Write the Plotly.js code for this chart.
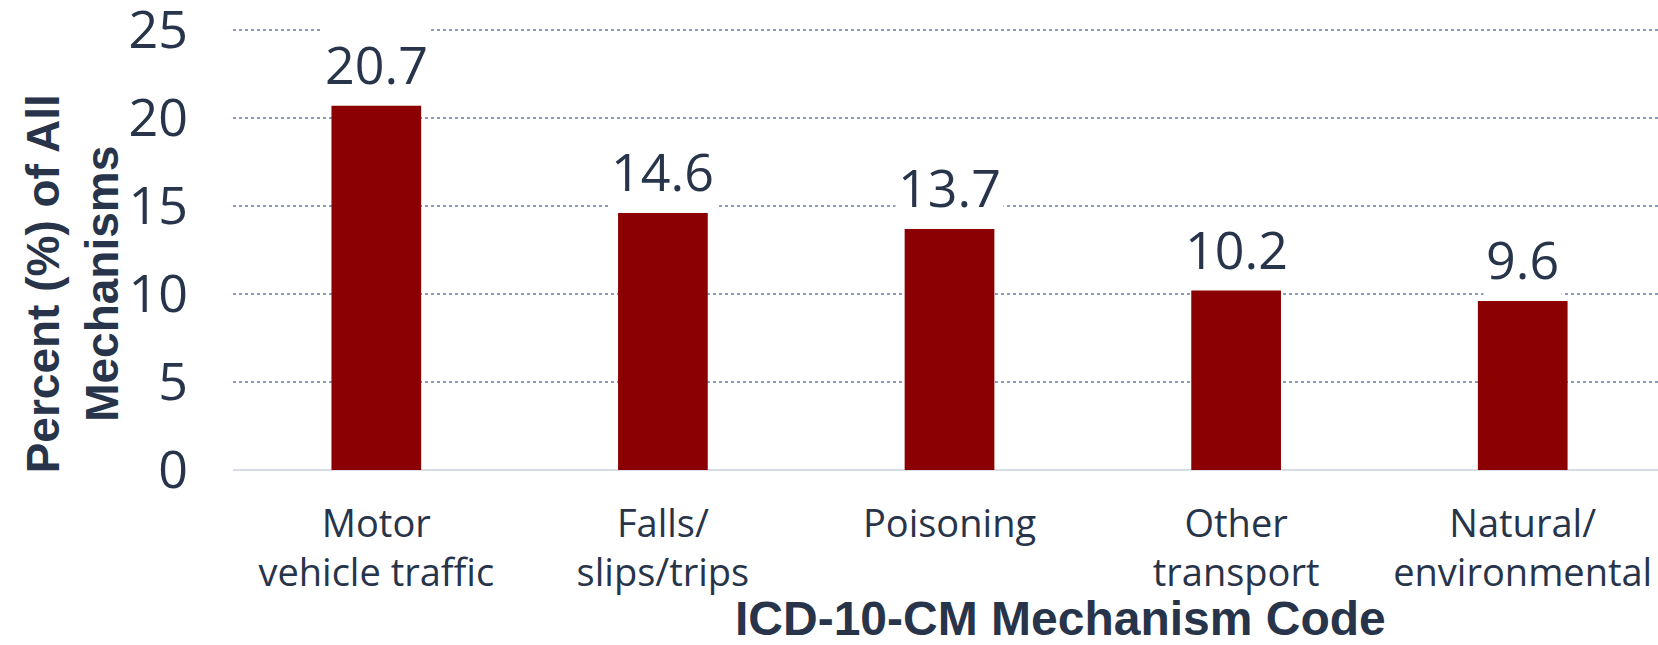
<!DOCTYPE html>
<html>
<head>
<meta charset="utf-8">
<script src="https://cdn.plot.ly/plotly-3.0.1.min.js"></script>
<style>html,body{margin:0;padding:0;background:#fff;}#chart{width:1658px;height:645px;}</style>
</head>
<body>
<div id="chart"></div>
<script>
const categories = ["Motor vehicle traffic", "Falls/slips/trips", "Poisoning", "Other transport", "Natural/environmental"];
const tickLabels = ["Motor<br>vehicle traffic", "Falls/<br>slips/trips", "Poisoning", "Other<br>transport", "Natural/<br>environmental"];
const percentValues = [20.7, 14.6, 13.7, 10.2, 9.6];
const yTickValues = [0, 5, 10, 15, 20, 25];
const xTitle = "ICD-10-CM Mechanism Code";
const yTitle = "Percent (%) of All<br>Mechanisms";

const textColor = "#27344a";
const numFont = "Open Sans, Liberation Sans, sans-serif";
const titleFont = "Liberation Sans, Arial, sans-serif";

const trace = {
  type: "bar",
  x: categories,
  y: percentValues,
  marker: { color: "#8B0000", line: { width: 0 } },
  hoverinfo: "skip"
};

const labelAnnotations = categories.map((c, i) => ({
  x: c, y: percentValues[i], xref: "x", yref: "y",
  text: percentValues[i].toFixed(1),
  showarrow: false, yanchor: "bottom", xanchor: "center",
  yshift: 4, bgcolor: "#ffffff", borderpad: 2,
  font: { family: numFont, size: 52, color: textColor }
}));

const layout = {
  width: 1658, height: 645,
  margin: { l: 233, r: 0, t: 29, b: 174.5 },
  paper_bgcolor: "#ffffff", plot_bgcolor: "#ffffff",
  showlegend: false,
  bargap: 0.687,
  xaxis: {
    type: "category",
    range: [-0.5, 4.472],
    tickvals: categories, ticktext: tickLabels,
    showgrid: false, showline: false, zeroline: false,
    ticks: "", ticklabelstandoff: 28, ticklabeloverflow: "allow",
    tickfont: { family: numFont, size: 38, color: textColor }
  },
  yaxis: {
    range: [0, 25.06],
    tickvals: yTickValues,
    showgrid: true, gridcolor: "#8a9cba", gridwidth: 2, griddash: "dot",
    zeroline: true, zerolinecolor: "#d8dce6", zerolinewidth: 2,
    showline: false, ticks: "", ticklabelstandoff: 44, ticklabeloverflow: "allow",
    tickfont: { family: numFont, size: 52, color: textColor }
  },
  annotations: labelAnnotations.concat([
    {
      text: xTitle, xref: "paper", yref: "paper", x: 0.5804, y: -0.336,
      xanchor: "center", yanchor: "middle", showarrow: false,
      font: { family: titleFont, size: 48, color: textColor, weight: "bold" }
    },
    {
      text: yTitle, xref: "paper", yref: "paper", x: 0, y: 0.421,
      xshift: -160, xanchor: "center", yanchor: "middle", showarrow: false,
      textangle: -90,
      font: { family: titleFont, size: 46, color: textColor, weight: "bold" }
    }
  ])
};

Plotly.newPlot("chart", [trace], layout, { displayModeBar: false, staticPlot: true });
</script>
</body>
</html>
